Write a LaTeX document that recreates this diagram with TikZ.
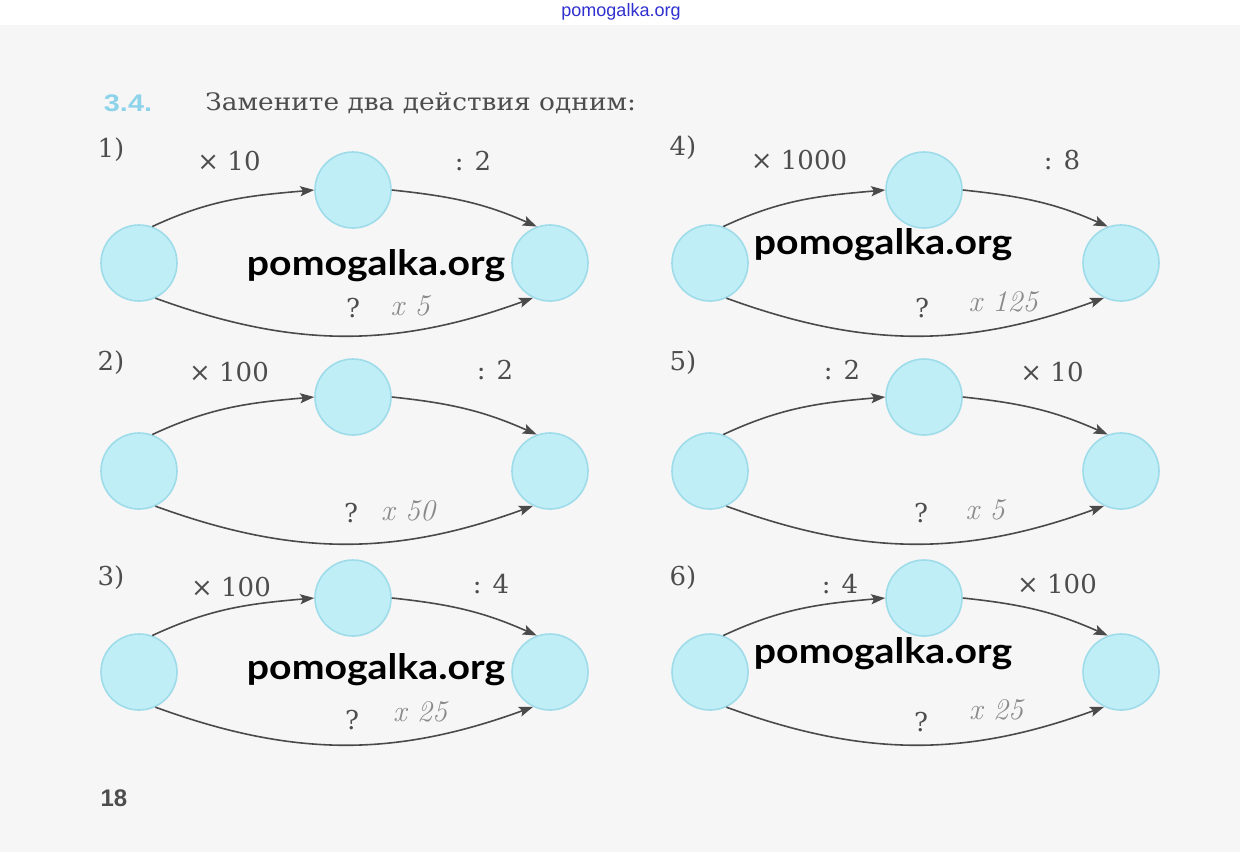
\documentclass[tikz,border=0pt]{standalone}
\usepackage{fontspec}
\setmainfont{DejaVu Serif}
\newfontfamily\titlefont[FakeStretch=1.1]{DejaVu Serif}
\newfontfamily\wmfont[FakeStretch=1.12]{Lato}
\newfontfamily\sitefont{Liberation Sans}
\newfontfamily\exnumfont[FakeStretch=1.2]{Liberation Sans}
\newfontfamily\handfont{Latin Modern Roman}
\usetikzlibrary{arrows.meta}
\definecolor{pagebg}{HTML}{F6F6F6}
\definecolor{bubfill}{HTML}{C0EEF6}
\definecolor{bubedge}{HTML}{9EDCEA}
\definecolor{linegray}{HTML}{4A4A4A}
\definecolor{txtgray}{HTML}{4D4D4D}
\definecolor{handgray}{HTML}{8A8A8A}
\definecolor{numblue}{HTML}{8DD3EA}
\definecolor{siteblue}{HTML}{3030D0}
\tikzset{
  bub/.style={circle, minimum size=38pt, inner sep=0pt, fill=bubfill, draw=bubedge, line width=0.8pt},
  arr/.style={draw=linegray, line width=0.8pt, -{Stealth[length=7pt,width=5pt,inset=1.4pt]}},
  oplab/.style={text=txtgray, font=\fontsize{13}{15}\selectfont, inner sep=0pt},
  numlab/.style={text=txtgray, font=\fontsize{13}{15}\selectfont, inner sep=0pt},
  hand/.style={text=handgray, font=\handfont\itshape\fontsize{15}{17}\selectfont, inner sep=0pt},
  wm/.style={text=black, font=\wmfont\bfseries\fontsize{17.5}{20}\selectfont, inner sep=0pt},
}
\newcommand\mydiag[6]{%
  \node[bub] (#1L) at (#2,-#5) {};
  \node[bub] (#1M) at (#3,-#6) {};
  \node[bub] (#1R) at (#4,-#5) {};
  \draw[arr] (#1L.70) to[out=25,in=185] (#1M.180);
  \draw[arr] (#1M.0) to[out=-6,in=156] (#1R.110);
  \draw[arr] (#1L.-65) to[out=-20,in=200] (#1R.-116);
}
\begin{document}
\begin{tikzpicture}[x=0.5pt,y=0.5pt]
\useasboundingbox (0,0) rectangle (1240,-852);
\fill[pagebg] (0,-25) rectangle (1240,-852);
\fill[white] (0,0) rectangle (1240,-25);
\node[text=siteblue, font=\sitefont\fontsize{9}{10}\selectfont, inner sep=0pt] (site) at (621,-12) {pomogalka.org};
% title
\node[text=numblue, font=\exnumfont\bfseries\fontsize{12}{14}\selectfont, inner sep=0pt] (num) at (128,-103) {3.4.};
\node[text=txtgray, font=\titlefont\fontsize{12}{14}\selectfont, inner sep=0pt, anchor=west] (title) at (205,-103) {Замените два действия одним:};
% diagrams
\mydiag{a}{139}{353}{550}{263}{190}
\mydiag{b}{139}{353}{550}{471}{397}
\mydiag{c}{139}{353}{550}{672}{598}
\mydiag{d}{710}{924}{1121}{263}{190}
\mydiag{e}{710}{924}{1121}{471}{397}
\mydiag{f}{710}{924}{1121}{672}{598}
% row 1 left
\node[numlab] (a0) at (111,-150) {1)};
\node[oplab] (a1) at (229,-161) {× 10};
\node[oplab] (a2) at (473,-161) {: 2};
\node[oplab] (a3) at (353,-308) {?};
\node[hand] (a4) at (410,-306) {x 5};
% row 2 left
\node[numlab] (b0) at (111,-363) {2)};
\node[oplab] (b1) at (229,-372) {× 100};
\node[oplab] (b2) at (495,-370) {: 2};
\node[oplab] (b3) at (351,-513) {?};
\node[hand] (b4) at (408,-511) {x 50};
% row 3 left
\node[numlab] (c0) at (111,-578) {3)};
\node[oplab] (c1) at (231,-587) {× 100};
\node[oplab] (c2) at (491,-584) {: 4};
\node[oplab] (c3) at (352,-720) {?};
\node[hand] (c4) at (420,-712) {x 25};
% row 1 right
\node[numlab] (d0) at (683,-148) {4)};
\node[oplab] (d1) at (799,-160) {× 1000};
\node[oplab] (d2) at (1062,-160) {: 8};
\node[oplab] (d3) at (922,-308) {?};
\node[hand] (d4) at (1003,-302) {x 125};
% row 2 right
\node[numlab] (e0) at (683,-363) {5)};
\node[oplab] (e1) at (842,-370) {: 2};
\node[oplab] (e2) at (1052,-372) {× 10};
\node[oplab] (e3) at (921,-513) {?};
\node[hand] (e4) at (985,-510) {x 5};
% row 3 right
\node[numlab] (f0) at (683,-578) {6)};
\node[oplab] (f1) at (840,-584) {: 4};
\node[oplab] (f2) at (1057,-584) {× 100};
\node[oplab] (f3) at (921,-722) {?};
\node[hand] (f4) at (996,-710) {x 25};
% watermarks
\node[wm] (w1) at (376,-266) {pomogalka.org};
\node[wm] (w2) at (883,-245) {pomogalka.org};
\node[wm] (w3) at (376,-670) {pomogalka.org};
\node[wm] (w4) at (883,-654) {pomogalka.org};
% page number
\node[text=txtgray, font=\sitefont\bfseries\fontsize{12}{14}\selectfont, inner sep=0pt] (page) at (114,-798) {18};
\end{tikzpicture}
\end{document}
